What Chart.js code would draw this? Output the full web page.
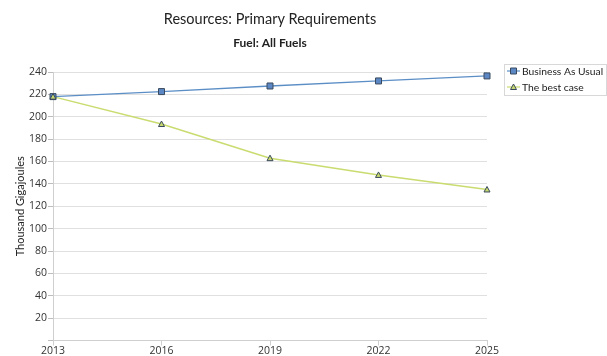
<!DOCTYPE html>
<html>
<head>
<meta charset="utf-8">
<script src="https://cdn.jsdelivr.net/npm/chart.js@4/dist/chart.umd.min.js"></script>
<style>
  html, body { margin: 0; padding: 0; background: #fff; }
  #wrap { width: 607px; height: 356px; position: relative; }
</style>
</head>
<body>
<div id="wrap"><canvas id="c" width="607" height="356"></canvas></div>
<script>
const years = ['2013', '2016', '2019', '2022', '2025'];
const businessAsUsual = [218, 222.5, 227.5, 232, 236.5];
const bestCase = [218, 193.5, 163, 148, 135];
const seriesNames = ['Business As Usual', 'The best case'];
const chartTitle = 'Resources: Primary Requirements';
const chartSubtitle = 'Fuel: All Fuels';
const yAxisTitle = 'Thousand Gigajoules';

const FONT = "'Open Sans', 'Noto Sans', sans-serif";
const TITLE_FONT = "Lato, 'Open Sans', sans-serif";

// Square and triangle markers drawn with an outline, as in the series legend
function drawMarker(ctx, style, x, y, fill) {
  ctx.save();
  ctx.fillStyle = fill;
  ctx.strokeStyle = '#3a4a5e';
  ctx.lineWidth = 1;
  ctx.beginPath();
  if (style === 'rect') {
    ctx.rect(x - 3, y - 3, 6, 6);
  } else {
    ctx.moveTo(x, y - 3);
    ctx.lineTo(x + 3, y + 2.5);
    ctx.lineTo(x - 3, y + 2.5);
    ctx.closePath();
  }
  ctx.fill();
  ctx.stroke();
  ctx.restore();
}

const headerPlugin = {
  id: 'header',
  afterDraw(chart) {
    const ctx = chart.ctx;
    const a = chart.chartArea;
    const cx = (a.left + a.right) / 2;
    ctx.save();
    ctx.fillStyle = '#222';
    ctx.textAlign = 'center';
    ctx.textBaseline = 'alphabetic';
    ctx.font = '14.5px ' + TITLE_FONT;
    ctx.fillText(chartTitle, cx, 24);
    ctx.font = 'bold 12px ' + TITLE_FONT;
    ctx.fillText(chartSubtitle, cx, 47);
    // y axis title
    ctx.font = '11px ' + TITLE_FONT;
    ctx.translate(20, (a.top + a.bottom) / 2);
    ctx.rotate(-Math.PI / 2);
    ctx.textBaseline = 'middle';
    ctx.fillText(yAxisTitle, 0, 0);
    ctx.restore();
  }
};

const legendPlugin = {
  id: 'sideLegend',
  afterDraw(chart) {
    const ctx = chart.ctx;
    const x0 = 504, y0 = 64, w = 102, h = 31;
    ctx.save();
    ctx.strokeStyle = '#d8d8d8';
    ctx.lineWidth = 1;
    ctx.strokeRect(x0 + 0.5, y0 + 0.5, w, h);
    ctx.font = '10.3px ' + TITLE_FONT;
    ctx.textBaseline = 'middle';
    ctx.textAlign = 'left';
    chart.data.datasets.forEach((ds, i) => {
      const y = y0 + 7 + i * 16;
      ctx.strokeStyle = ds.borderColor;
      ctx.lineWidth = 1.2;
      ctx.beginPath();
      ctx.moveTo(x0 + 3, y);
      ctx.lineTo(x0 + 16, y);
      ctx.stroke();
      drawMarker(ctx, ds.pointStyle, x0 + 9.5, y, ds.pointBackgroundColor);
      ctx.fillStyle = '#222';
      ctx.fillText(ds.label, x0 + 18, y + 0.5);
    });
    ctx.restore();
  }
};

const markerPlugin = {
  id: 'markers',
  afterDatasetsDraw(chart) {
    const ctx = chart.ctx;
    chart.data.datasets.forEach((ds, i) => {
      chart.getDatasetMeta(i).data.forEach(pt => {
        drawMarker(ctx, ds.pointStyle, pt.x, pt.y, ds.pointBackgroundColor);
      });
    });
  }
};

new Chart(document.getElementById('c'), {
  type: 'line',
  data: {
    labels: years,
    datasets: [
      {
        label: seriesNames[0],
        data: businessAsUsual,
        borderColor: '#5c8ec6',
        borderWidth: 1.3,
        pointStyle: 'rect',
        pointBackgroundColor: '#5b87c4',
        pointRadius: 0,
        tension: 0
      },
      {
        label: seriesNames[1],
        data: bestCase,
        borderColor: '#c9dc70',
        borderWidth: 1.5,
        pointStyle: 'triangle',
        pointBackgroundColor: '#c6d770',
        pointRadius: 0,
        tension: 0
      }
    ]
  },
  options: {
    responsive: false,
    animation: false,
    devicePixelRatio: 1,
    layout: { padding: { top: 72, right: 120, bottom: 0, left: 28 } },
    plugins: {
      legend: { display: false },
      title: { display: false },
      tooltip: { enabled: false }
    },
    scales: {
      x: {
        offset: false,
        grid: {
          drawOnChartArea: false,
          color: '#cfcfcf',
          tickLength: 5
        },
        border: { color: '#cfcfcf' },
        ticks: {
          color: '#333',
          font: { family: FONT, size: 10.5, lineHeight: 1 },
          padding: 0,
          maxRotation: 0
        }
      },
      y: {
        min: 0,
        max: 240,
        grid: {
          color: '#e0e0e0',
          tickLength: 5,
          tickColor: '#bdbdbd'
        },
        border: { color: '#cfcfcf' },
        ticks: {
          stepSize: 20,
          color: '#333',
          font: { family: FONT, size: 10.5 },
          padding: 1,
          callback: v => (v === 0 ? '' : v)
        }
      }
    }
  },
  plugins: [headerPlugin, legendPlugin, markerPlugin]
});
</script>
</body>
</html>
